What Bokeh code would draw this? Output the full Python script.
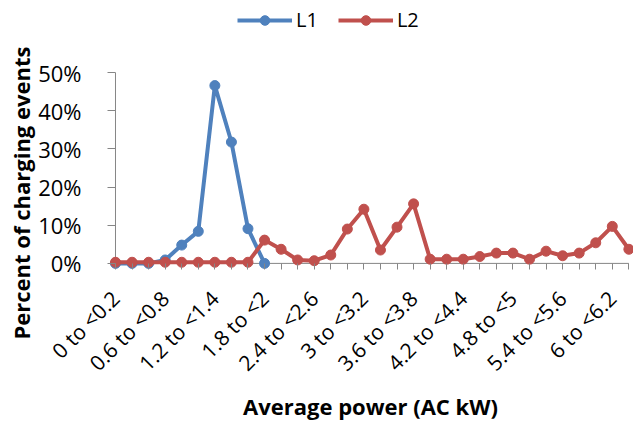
from bokeh.plotting import figure
from bokeh.models import Range1d, FixedTicker, PrintfTickFormatter, Legend, LegendItem, Title
from bokeh.embed import file_html
from bokeh.resources import INLINE
import math

categories = [
    "0 to <0.2", "0.2 to <0.4", "0.4 to <0.6", "0.6 to <0.8", "0.8 to <1", "1 to <1.2",
    "1.2 to <1.4", "1.4 to <1.6", "1.6 to <1.8", "1.8 to <2", "2 to <2.2", "2.2 to <2.4",
    "2.4 to <2.6", "2.6 to <2.8", "2.8 to <3", "3 to <3.2", "3.2 to <3.4", "3.4 to <3.6",
    "3.6 to <3.8", "3.8 to <4", "4 to <4.2", "4.2 to <4.4", "4.4 to <4.6", "4.6 to <4.8",
    "4.8 to <5", "5 to <5.2", "5.2 to <5.4", "5.4 to <5.6", "5.6 to <5.8", "5.8 to <6",
    "6 to <6.2", "6.2 to <6.4",
]
l1_values = [0.0, 0.0, 0.0, 0.9, 4.8, 8.4, 46.6, 31.8, 9.1, 0.0]
l2_values = [0.3, 0.3, 0.3, 0.3, 0.3, 0.3, 0.3, 0.3, 0.3, 6.1, 3.7, 0.9, 0.7, 2.2,
             9.0, 14.2, 3.5, 9.5, 15.6, 1.1, 1.1, 1.1, 1.8, 2.7, 2.7, 1.1, 3.2, 2.0,
             2.7, 5.4, 9.7, 3.7]
y_ticks = [0, 10, 20, 30, 40, 50]
label_every = 3

FONT = "Open Sans"
BLUE = "#4F81BD"
RED = "#C0504D"
AXIS = "#868686"

n = len(categories)
p = figure(width=633, height=426, output_backend="svg", toolbar_location=None,
           x_range=Range1d(-0.483, 31.28), y_range=Range1d(-1.6, 68.9),
           min_border_left=107, min_border_right=0, min_border_top=0, min_border_bottom=157)
p.outline_line_color = None
p.grid.visible = False
p.background_fill_color = "white"
p.border_fill_color = "white"

# axis lines at the zero levels
p.segment(x0=[0, 0], y0=[0, 0], x1=[n - 1, 0], y1=[0, max(y_ticks)], line_color=AXIS, line_width=1)

x1 = list(range(len(l1_values)))
x2 = list(range(len(l2_values)))
r1l = p.line(x1, l1_values, line_color=BLUE, line_width=4)
r1s = p.scatter(x1, l1_values, size=10, fill_color=BLUE, line_color=BLUE)
r2l = p.line(x2, l2_values, line_color=RED, line_width=4)
r2s = p.scatter(x2, l2_values, size=10, fill_color=RED, line_color=RED)

xa = p.xaxis[0]
xa.ticker = FixedTicker(ticks=list(range(n)), minor_ticks=[])
xa.major_label_overrides = {i: (c if i % label_every == 0 else "") for i, c in enumerate(categories)}
xa.major_label_orientation = math.pi / 4
xa.major_label_text_font = FONT
xa.major_label_text_font_size = "21px"
xa.major_label_text_color = "black"
xa.major_label_standoff = 25
xa.major_tick_in = 6
xa.major_tick_out = 0
xa.minor_tick_out = 0
xa.minor_tick_in = 0
xa.axis_line_color = None
xa.major_tick_line_color = AXIS
xa.axis_label = "Average power (AC kW)"
xa.axis_label_text_font = FONT
xa.axis_label_text_font_style = "bold"
xa.axis_label_text_font_size = "22px"
xa.axis_label_text_color = "black"
xa.axis_label_standoff = 2

ya = p.yaxis[0]
ya.ticker = FixedTicker(ticks=y_ticks, minor_ticks=[])
ya.formatter = PrintfTickFormatter(format="%d%%")
ya.major_label_text_font = FONT
ya.major_label_text_font_size = "22px"
ya.major_label_text_color = "black"
ya.major_label_standoff = 26
ya.major_tick_in = 8
ya.major_tick_out = 0
ya.minor_tick_out = 0
ya.minor_tick_in = 0
ya.axis_line_color = None
ya.major_tick_line_color = AXIS

ytitle = Title(text="Percent of charging events", align="left", offset=-70,
               text_font=FONT, text_font_style="bold", text_font_size="22px",
               text_color="black", standoff=0)
p.add_layout(ytitle, "left")

legend = Legend(items=[LegendItem(label="L1", renderers=[r1l, r1s]),
                       LegendItem(label="L2", renderers=[r2l, r2s])],
                orientation="horizontal", location=(130, 236),
                glyph_width=55, glyph_height=24, label_standoff=4, spacing=20,
                padding=0, margin=0, border_line_color=None, background_fill_alpha=0,
                label_text_font=FONT, label_text_font_size="20px", label_text_color="black")
p.add_layout(legend, "center")

open("out.html", "w").write(file_html(p, INLINE))
